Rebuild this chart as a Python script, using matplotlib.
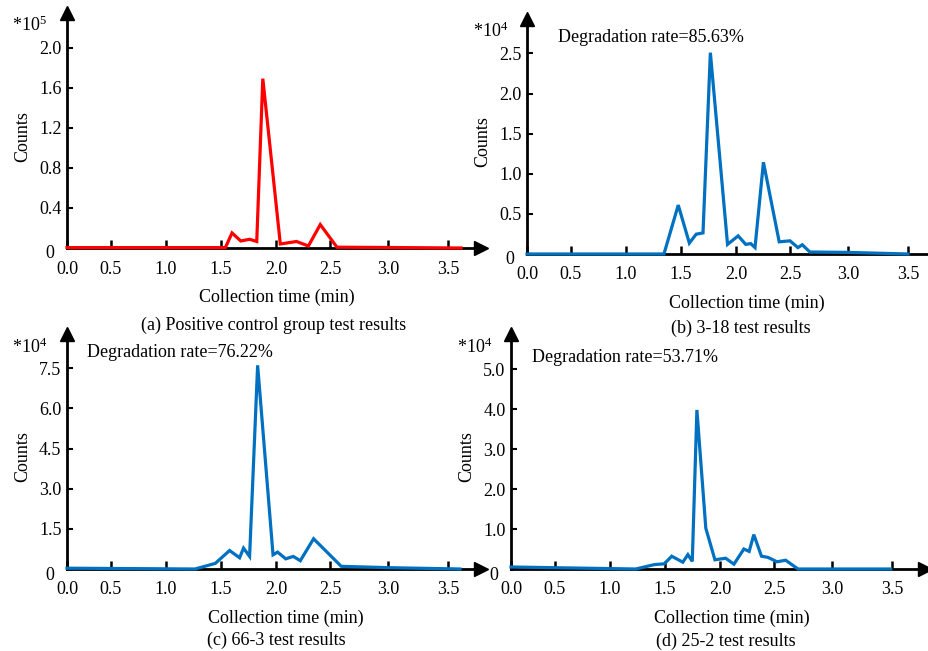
import numpy as np
import matplotlib
matplotlib.use("Agg")
import matplotlib.pyplot as plt
from matplotlib.transforms import ScaledTranslation

plt.rcParams['font.family'] = ['Liberation Serif', 'DejaVu Serif']
plt.rcParams['mathtext.fontset'] = 'custom'
plt.rcParams['mathtext.rm'] = 'Liberation Serif'
plt.rcParams['mathtext.it'] = 'Liberation Serif:italic'

# ---------------- data ----------------
x_ticks = [0.0, 0.5, 1.0, 1.5, 2.0, 2.5, 3.0, 3.5]
x_tick_labels = ["0.0", "0.5", "1.0", "1.5", "2.0", "2.5", "3.0", "3.5"]

# (a) Positive control, counts in units of 1e5
time_a = [0.0, 1.54, 1.60, 1.68, 1.76, 1.825, 1.88, 2.04, 2.19, 2.30, 2.41, 2.56, 3.0, 3.61]
counts_a = [0.004, 0.004, 0.15, 0.07, 0.087, 0.065, 1.69, 0.04, 0.065, 0.02, 0.234, 0.008, 0.005, 0.0]

# (b) 3-18, counts in units of 1e4
time_b = [0.0, 1.345, 1.475, 1.576, 1.638, 1.70, 1.767, 1.923, 2.02, 2.09, 2.136, 2.176,
          2.254, 2.40, 2.50, 2.568, 2.606, 2.671, 3.0, 3.5]
counts_b = [0.0, 0.0, 0.61, 0.136, 0.247, 0.263, 2.51, 0.12, 0.226, 0.12, 0.13, 0.08,
            1.144, 0.152, 0.164, 0.08, 0.115, 0.025, 0.02, 0.0]

# (c) 66-3, counts in units of 1e4
time_c = [0.0, 1.264, 1.448, 1.578, 1.669, 1.705, 1.76, 1.833, 1.973, 2.015, 2.09, 2.16,
          2.225, 2.348, 2.597, 3.0, 3.6]
counts_c = [0.03, 0.0, 0.21, 0.69, 0.42, 0.78, 0.47, 7.61, 0.53, 0.63, 0.38, 0.47,
            0.31, 1.13, 0.10, 0.05, 0.0]

# (d) 25-2, counts in units of 1e4
time_d = [0.0, 1.234, 1.403, 1.494, 1.561, 1.662, 1.708, 1.748, 1.79, 1.871, 1.954, 2.052,
          2.129, 2.221, 2.27, 2.313, 2.384, 2.445, 2.526, 2.60, 2.707, 3.0, 3.49]
counts_d = [0.05, 0.0, 0.11, 0.13, 0.32, 0.17, 0.36, 0.19, 3.98, 1.02, 0.23, 0.27,
            0.12, 0.50, 0.44, 0.86, 0.32, 0.29, 0.18, 0.22, 0.0, 0.0, 0.0]

yticks_a = [0, 0.4, 0.8, 1.2, 1.6, 2.0]
yticklabels_a = ["0", "0.4", "0.8", "1.2", "1.6", "2.0"]
yticks_b = [0, 0.5, 1.0, 1.5, 2.0, 2.5]
yticklabels_b = ["0", "0.5", "1.0", "1.5", "2.0", "2.5"]
yticks_c = [0, 1.5, 3.0, 4.5, 6.0, 7.5]
yticklabels_c = ["0", "1.5", "3.0", "4.5", "6.0", "7.5"]
yticks_d = [0, 1.0, 2.0, 3.0, 4.0, 5.0]
yticklabels_d = ["0", "1.0", "2.0", "3.0", "4.0", "5.0"]

captions = ["(a) Positive control group test results", "(b) 3-18 test results",
            "(c) 66-3 test results", "(d) 25-2 test results"]
rates = [None, "Degradation rate=85.63%", "Degradation rate=76.22%", "Degradation rate=53.71%"]
exponents = [5, 4, 4, 4]

# ---------------- uneven time axis (as drawn in the original) ----------------
warp_min = np.array([-0.5, 0.0, 0.5, 1.0, 1.5, 2.0, 2.5, 3.0, 3.5, 5.0])
warp_pos = np.array([-44, 0, 44, 99, 154, 209, 263, 321, 381, 561], dtype=float)

def fwd(v):
    return np.interp(v, warp_min, warp_pos)

def inv(p):
    return np.interp(p, warp_pos, warp_min)

W, H = 929, 651
fig = plt.figure(figsize=(W / 100, H / 100), dpi=100)

FS = 13
RED = '#FF0000'
BLUE = '#0070C0'

panels = [
    dict(x0=67, y0=248, t=time_a, c=counts_a, col=RED, yt=yticks_a, ytl=yticklabels_a, ymax=2.345,
         mult=(12, 25), rate=None, xlab=(277, 297), cap=(274, 325), ylab=(23, 137)),
    dict(x0=527, y0=254, t=time_b, c=counts_b, col=BLUE, yt=yticks_b, ytl=yticklabels_b, ymax=2.93,
         mult=(473, 31), rate=(558, 38), xlab=(747, 303), cap=(741, 328), ylab=(483, 142)),
    dict(x0=67, y0=569, t=time_c, c=counts_c, col=BLUE, yt=yticks_c, ytl=yticklabels_c, ymax=8.78,
         mult=(12, 347), rate=(87, 353), xlab=(286, 618), cap=(276, 640), ylab=(23, 457)),
    dict(x0=511, y0=569, t=time_d, c=counts_d, col=BLUE, yt=yticks_d, ytl=yticklabels_d, ymax=5.88,
         mult=(457, 347), rate=(532, 358), xlab=(732, 618), cap=(726, 641), ylab=(467, 457)),
]

AX_W, AX_H = 414, 235
XMAX = inv(AX_W)

for i, p in enumerate(panels):
    ax = fig.add_axes([p['x0'] / W, 1 - p['y0'] / H, AX_W / W, AX_H / H])
    ax.set_xscale('function', functions=(fwd, inv))
    ax.plot(p['t'], p['c'], color=p['col'], lw=2.3, clip_on=False, zorder=3,
            solid_joinstyle='miter')
    ax.set_xlim(0, XMAX)
    ax.set_ylim(0, p['ymax'])
    ax.set_xticks(x_ticks)
    ax.set_xticklabels(x_tick_labels)
    ax.set_yticks(p['yt'])
    ax.set_yticklabels(p['ytl'])
    ax.minorticks_off()
    for s in ['top', 'right']:
        ax.spines[s].set_visible(False)
    for s in ['left', 'bottom']:
        ax.spines[s].set_linewidth(2.0)
        ax.spines[s].set_zorder(2)
    ax.tick_params(axis='x', direction='in', length=6, width=1.8, pad=9, labelsize=FS)
    ax.tick_params(axis='y', direction='in', length=4, width=1.5, pad=4, labelsize=FS)
    ax.patch.set_visible(False)
    # arrow heads
    ax.plot(1, 0, marker='>', color='k', markersize=10, transform=ax.transAxes,
            clip_on=False, zorder=4)
    ax.plot(0, 1, marker='^', color='k', markersize=10, transform=ax.transAxes,
            clip_on=False, zorder=4)
    # shift "0" label like original
    lab0 = ax.yaxis.get_major_ticks()[0].label1
    lab0.set_transform(lab0.get_transform() + ScaledTranslation(-0.07, -0.04, fig.dpi_scale_trans))

    fig.text(p['mult'][0] / W, 1 - p['mult'][1] / H, r'*10$^{%d}$' % exponents[i],
             fontsize=FS, ha='left', va='center')
    if p['rate'] is not None:
        fig.text(p['rate'][0] / W, 1 - p['rate'][1] / H, rates[i], fontsize=FS,
                 ha='left', va='center')
    fig.text(p['xlab'][0] / W, 1 - p['xlab'][1] / H, "Collection time (min)", fontsize=FS,
             ha='center', va='center')
    fig.text(p['cap'][0] / W, 1 - p['cap'][1] / H, captions[i], fontsize=FS,
             ha='center', va='center')
    fig.text(p['ylab'][0] / W, 1 - p['ylab'][1] / H, "Counts", fontsize=FS,
             ha='center', va='center', rotation=90)

fig.savefig("out.png", dpi=100)
